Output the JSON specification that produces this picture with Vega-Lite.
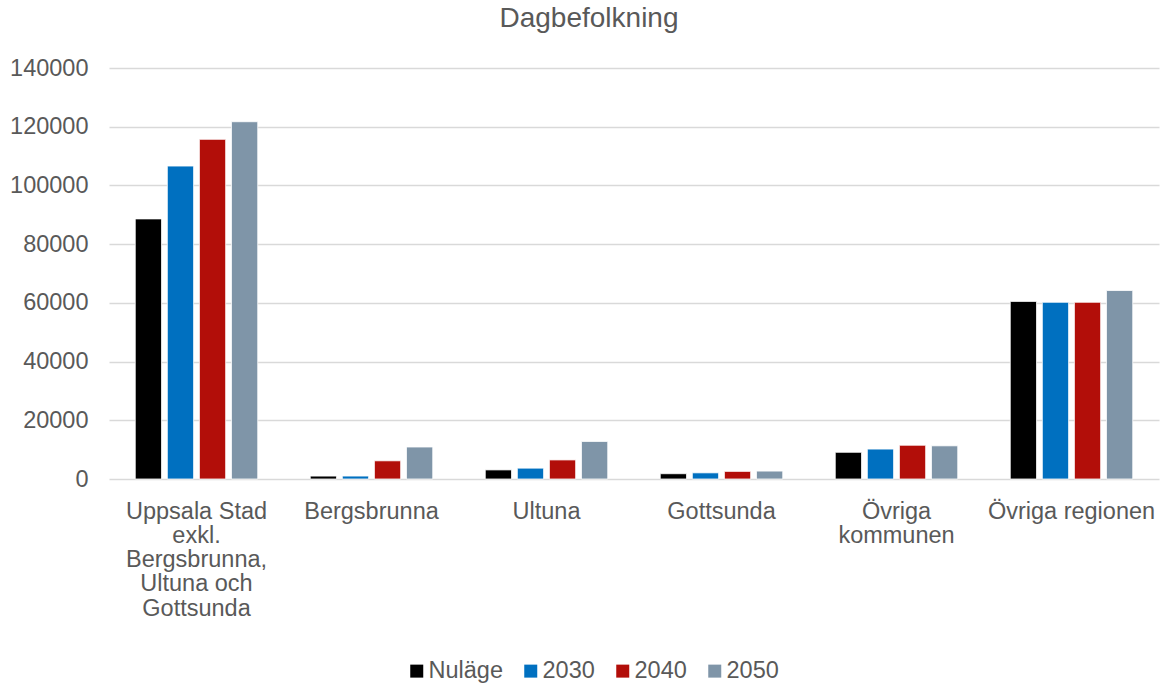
{
  "$schema": "https://vega.github.io/schema/vega-lite/v6.json",
  "autosize": "none",
  "width": 1050,
  "height": 411,
  "padding": {"left": 109, "top": 68, "right": 3, "bottom": 205},
  "background": "white",
  "title": {"text": "Dagbefolkning", "font": "Liberation Sans", "fontSize": 28, "fontWeight": "normal", "color": "#595959", "offset": 23, "anchor": "middle", "dx": -45},
  "config": {
    "view": {"stroke": null},
    "font": "Liberation Sans"
  },
  "data": {"values": [
    {"omrade": "Uppsala Stad exkl. Bergsbrunna, Ultuna och Gottsunda", "ar": "Nuläge", "antal": 88600},
    {"omrade": "Uppsala Stad exkl. Bergsbrunna, Ultuna och Gottsunda", "ar": "2030", "antal": 106600},
    {"omrade": "Uppsala Stad exkl. Bergsbrunna, Ultuna och Gottsunda", "ar": "2040", "antal": 115700},
    {"omrade": "Uppsala Stad exkl. Bergsbrunna, Ultuna och Gottsunda", "ar": "2050", "antal": 121700},
    {"omrade": "Bergsbrunna", "ar": "Nuläge", "antal": 1000},
    {"omrade": "Bergsbrunna", "ar": "2030", "antal": 1000},
    {"omrade": "Bergsbrunna", "ar": "2040", "antal": 6200},
    {"omrade": "Bergsbrunna", "ar": "2050", "antal": 10900},
    {"omrade": "Ultuna", "ar": "Nuläge", "antal": 3100},
    {"omrade": "Ultuna", "ar": "2030", "antal": 3700},
    {"omrade": "Ultuna", "ar": "2040", "antal": 6500},
    {"omrade": "Ultuna", "ar": "2050", "antal": 12800},
    {"omrade": "Gottsunda", "ar": "Nuläge", "antal": 1800},
    {"omrade": "Gottsunda", "ar": "2030", "antal": 2100},
    {"omrade": "Gottsunda", "ar": "2040", "antal": 2600},
    {"omrade": "Gottsunda", "ar": "2050", "antal": 2700},
    {"omrade": "Övriga kommunen", "ar": "Nuläge", "antal": 9100},
    {"omrade": "Övriga kommunen", "ar": "2030", "antal": 10200},
    {"omrade": "Övriga kommunen", "ar": "2040", "antal": 11500},
    {"omrade": "Övriga kommunen", "ar": "2050", "antal": 11300},
    {"omrade": "Övriga regionen", "ar": "Nuläge", "antal": 60500},
    {"omrade": "Övriga regionen", "ar": "2030", "antal": 60200},
    {"omrade": "Övriga regionen", "ar": "2040", "antal": 60200},
    {"omrade": "Övriga regionen", "ar": "2050", "antal": 64200}
  ]},
  "mark": {"type": "bar", "stroke": "white", "strokeWidth": 0.8},
  "encoding": {
    "x": {
      "field": "omrade", "type": "nominal", "sort": null,
      "scale": {"paddingInner": 0.3, "paddingOuter": 0.15},
      "axis": {
        "title": null, "labelAngle": 0, "domain": false, "ticks": false,
        "labelFontSize": 23.5, "labelColor": "#595959", "labelPadding": 20,
        "labelLineHeight": 24.3, "labelLimit": 0, "labelFont": "Liberation Sans",
        "labelExpr": "datum.value == 'Uppsala Stad exkl. Bergsbrunna, Ultuna och Gottsunda' ? ['Uppsala Stad', 'exkl.', 'Bergsbrunna,', 'Ultuna och', 'Gottsunda'] : datum.value == 'Övriga kommunen' ? ['Övriga', 'kommunen'] : datum.value"
      }
    },
    "xOffset": {"field": "ar", "type": "nominal", "sort": ["Nuläge", "2030", "2040", "2050"], "scale": {"paddingInner": 0.18}},
    "y": {
      "field": "antal", "type": "quantitative",
      "scale": {"domain": [0, 140000], "nice": false},
      "axis": {
        "title": null, "values": [0, 20000, 40000, 60000, 80000, 100000, 120000, 140000],
        "format": "d", "domain": false, "ticks": false,
        "labelFontSize": 23.5, "labelColor": "#595959", "labelPadding": 21, "labelFont": "Liberation Sans",
        "gridColor": "#D9D9D9", "gridWidth": 1.5
      }
    },
    "color": {
      "field": "ar", "type": "nominal",
      "sort": ["Nuläge", "2030", "2040", "2050"],
      "scale": {"domain": ["Nuläge", "2030", "2040", "2050"], "range": ["#000000", "#0070C0", "#B20E09", "#7F95A8"]},
      "legend": {
        "title": null, "orient": "none", "direction": "horizontal",
        "legendX": 296, "legendY": 591,
        "symbolType": "square", "symbolSize": 169, "symbolStrokeWidth": 0,
        "labelFontSize": 23.5, "labelColor": "#595959", "labelFont": "Liberation Sans",
        "columnPadding": 16, "labelOffset": 0
      }
    }
  }
}
